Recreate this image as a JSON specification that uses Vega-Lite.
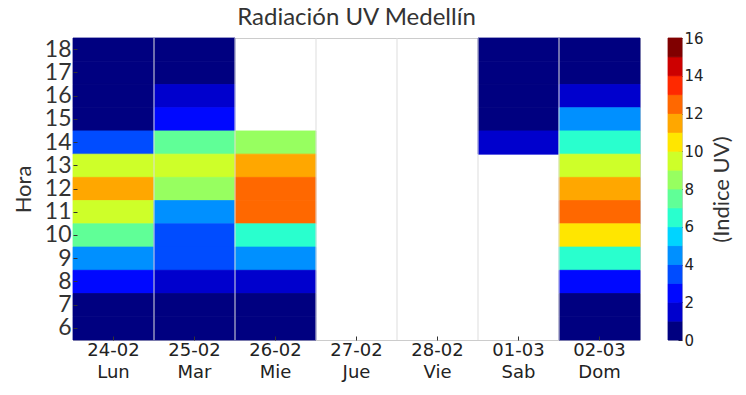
{
  "$schema": "https://vega.github.io/schema/vega-lite/v6.json",
  "background": "white",
  "padding": {"left": 11, "top": 5, "right": 5, "bottom": 5},
  "config": {"view": {"stroke": "#cccccc", "strokeWidth": 1}, "concat": {"spacing": 26}},
  "datasets": {
    "uv": [
      {"dia": "24-02 Lun", "hora": 18, "uv": 0}, {"dia": "24-02 Lun", "hora": 17, "uv": 0}, {"dia": "24-02 Lun", "hora": 16, "uv": 0}, {"dia": "24-02 Lun", "hora": 15, "uv": 0}, {"dia": "24-02 Lun", "hora": 14, "uv": 3}, {"dia": "24-02 Lun", "hora": 13, "uv": 9}, {"dia": "24-02 Lun", "hora": 12, "uv": 11}, {"dia": "24-02 Lun", "hora": 11, "uv": 9}, {"dia": "24-02 Lun", "hora": 10, "uv": 7}, {"dia": "24-02 Lun", "hora": 9, "uv": 4}, {"dia": "24-02 Lun", "hora": 8, "uv": 2}, {"dia": "24-02 Lun", "hora": 7, "uv": 0}, {"dia": "24-02 Lun", "hora": 6, "uv": 0},
      {"dia": "25-02 Mar", "hora": 18, "uv": 0}, {"dia": "25-02 Mar", "hora": 17, "uv": 0}, {"dia": "25-02 Mar", "hora": 16, "uv": 1}, {"dia": "25-02 Mar", "hora": 15, "uv": 2}, {"dia": "25-02 Mar", "hora": 14, "uv": 7}, {"dia": "25-02 Mar", "hora": 13, "uv": 9}, {"dia": "25-02 Mar", "hora": 12, "uv": 8}, {"dia": "25-02 Mar", "hora": 11, "uv": 4}, {"dia": "25-02 Mar", "hora": 10, "uv": 3}, {"dia": "25-02 Mar", "hora": 9, "uv": 3}, {"dia": "25-02 Mar", "hora": 8, "uv": 1}, {"dia": "25-02 Mar", "hora": 7, "uv": 0}, {"dia": "25-02 Mar", "hora": 6, "uv": 0},
      {"dia": "26-02 Mie", "hora": 14, "uv": 8}, {"dia": "26-02 Mie", "hora": 13, "uv": 11}, {"dia": "26-02 Mie", "hora": 12, "uv": 12}, {"dia": "26-02 Mie", "hora": 11, "uv": 12}, {"dia": "26-02 Mie", "hora": 10, "uv": 6}, {"dia": "26-02 Mie", "hora": 9, "uv": 4}, {"dia": "26-02 Mie", "hora": 8, "uv": 1}, {"dia": "26-02 Mie", "hora": 7, "uv": 0}, {"dia": "26-02 Mie", "hora": 6, "uv": 0},
      {"dia": "01-03 Sab", "hora": 18, "uv": 0}, {"dia": "01-03 Sab", "hora": 17, "uv": 0}, {"dia": "01-03 Sab", "hora": 16, "uv": 0}, {"dia": "01-03 Sab", "hora": 15, "uv": 0}, {"dia": "01-03 Sab", "hora": 14, "uv": 1},
      {"dia": "02-03 Dom", "hora": 18, "uv": 0}, {"dia": "02-03 Dom", "hora": 17, "uv": 0}, {"dia": "02-03 Dom", "hora": 16, "uv": 1}, {"dia": "02-03 Dom", "hora": 15, "uv": 4}, {"dia": "02-03 Dom", "hora": 14, "uv": 6}, {"dia": "02-03 Dom", "hora": 13, "uv": 9}, {"dia": "02-03 Dom", "hora": 12, "uv": 11}, {"dia": "02-03 Dom", "hora": 11, "uv": 12}, {"dia": "02-03 Dom", "hora": 10, "uv": 10}, {"dia": "02-03 Dom", "hora": 9, "uv": 6}, {"dia": "02-03 Dom", "hora": 8, "uv": 2}, {"dia": "02-03 Dom", "hora": 7, "uv": 0}, {"dia": "02-03 Dom", "hora": 6, "uv": 0}
    ],
    "dias": [
      {"dia": "25-02 Mar"}, {"dia": "26-02 Mie"}, {"dia": "27-02 Jue"}, {"dia": "28-02 Vie"}, {"dia": "01-03 Sab"}, {"dia": "02-03 Dom"}
    ],
    "barra": [
      {"lo": 0, "hi": 1}, {"lo": 1, "hi": 2}, {"lo": 2, "hi": 3}, {"lo": 3, "hi": 4}, {"lo": 4, "hi": 5}, {"lo": 5, "hi": 6}, {"lo": 6, "hi": 7}, {"lo": 7, "hi": 8},
      {"lo": 8, "hi": 9}, {"lo": 9, "hi": 10}, {"lo": 10, "hi": 11}, {"lo": 11, "hi": 12}, {"lo": 12, "hi": 13}, {"lo": 13, "hi": 14}, {"lo": 14, "hi": 15}, {"lo": 15, "hi": 16}
    ]
  },
  "hconcat": [
    {
      "width": 567,
      "height": 302,
      "title": {"text": "Radiación UV Medellín", "font": "Lato", "fontSize": 24, "fontWeight": "normal", "color": "#333333", "offset": 8, "anchor": "middle"},
      "layer": [
        {
          "data": {"name": "uv"},
          "mark": {"type": "rect", "strokeWidth": 0.8},
          "encoding": {
            "x": {
              "field": "dia", "type": "nominal",
              "scale": {"domain": ["24-02 Lun", "25-02 Mar", "26-02 Mie", "27-02 Jue", "28-02 Vie", "01-03 Sab", "02-03 Dom"], "paddingInner": 0, "paddingOuter": 0},
              "axis": {"title": null, "labelExpr": "split(datum.label, ' ')", "labelFont": "DejaVu Sans", "labelFontSize": 18, "labelColor": "#222222", "labelLineHeight": 22, "labelPadding": 5, "labelAngle": 0, "tickSize": -4, "tickColor": "#333333", "domain": false, "grid": false, "labelOverlap": false}
            },
            "y": {
              "field": "hora", "type": "ordinal",
              "scale": {"domain": [18, 17, 16, 15, 14, 13, 12, 11, 10, 9, 8, 7, 6], "paddingInner": 0, "paddingOuter": 0},
              "axis": {"title": "Hora", "titleFont": "Lato", "titleFontSize": 22, "titleFontWeight": "normal", "titleColor": "#333333", "titlePadding": 9, "labelFont": "Lato", "labelFontSize": 23, "labelColor": "#333333", "labelPadding": 6, "tickSize": -4, "tickColor": "#333333", "domain": false, "grid": false, "labelOverlap": false}
            },
            "color": {
              "field": "uv", "type": "quantitative",
              "scale": {"type": "quantize", "domain": [0, 16], "nice": false, "zero": false, "range": ["#000080", "#0000cd", "#0008ff", "#004cff", "#0090ff", "#00d4ff", "#29ffce", "#60ff97", "#97ff60", "#ceff29", "#ffe600", "#ffa700", "#ff6800", "#ff2900", "#cd0000", "#800000"]},
              "legend": null
            },
            "stroke": {
              "field": "uv", "type": "quantitative",
              "scale": {"type": "quantize", "domain": [0, 16], "nice": false, "zero": false, "range": ["#000080", "#0000cd", "#0008ff", "#004cff", "#0090ff", "#00d4ff", "#29ffce", "#60ff97", "#97ff60", "#ceff29", "#ffe600", "#ffa700", "#ff6800", "#ff2900", "#cd0000", "#800000"]},
              "legend": null
            }
          }
        },
        {
          "data": {"name": "dias"},
          "mark": {"type": "rule", "color": "#dddddd", "strokeWidth": 1},
          "encoding": {"x": {"field": "dia", "type": "nominal", "bandPosition": 0}}
        }
      ]
    },
    {
      "width": 14,
      "height": 302,
      "data": {"name": "barra"},
      "mark": {"type": "rect", "strokeWidth": 0.8},
      "encoding": {
        "y": {
          "field": "lo", "type": "quantitative",
          "scale": {"domain": [0, 16], "nice": false, "zero": false},
          "axis": {"orient": "right", "values": [0, 2, 4, 6, 8, 10, 12, 14, 16], "title": "(Indice UV)", "titleAngle": 270, "titleBaseline": "top", "titleFont": "Lato", "titleFontSize": 22, "titleFontWeight": "normal", "titleColor": "#333333", "titlePadding": 8, "labelFont": "DejaVu Sans", "labelFontSize": 15, "labelColor": "#222222", "labelPadding": 6, "labelFlush": false, "labelOverlap": false, "tickSize": -4, "tickColor": "#222222", "domain": false, "grid": false}
        },
        "y2": {"field": "hi"},
        "color": {
          "field": "lo", "type": "quantitative",
          "scale": {"type": "quantize", "domain": [0, 16], "nice": false, "zero": false, "range": ["#000080", "#0000cd", "#0008ff", "#004cff", "#0090ff", "#00d4ff", "#29ffce", "#60ff97", "#97ff60", "#ceff29", "#ffe600", "#ffa700", "#ff6800", "#ff2900", "#cd0000", "#800000"]},
          "legend": null
        },
        "stroke": {
          "field": "lo", "type": "quantitative",
          "scale": {"type": "quantize", "domain": [0, 16], "nice": false, "zero": false, "range": ["#000080", "#0000cd", "#0008ff", "#004cff", "#0090ff", "#00d4ff", "#29ffce", "#60ff97", "#97ff60", "#ceff29", "#ffe600", "#ffa700", "#ff6800", "#ff2900", "#cd0000", "#800000"]},
          "legend": null
        }
      }
    }
  ]
}
